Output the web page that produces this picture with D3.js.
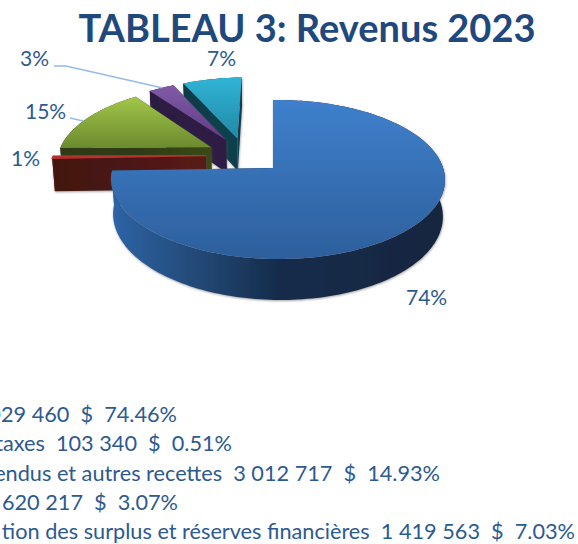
<!DOCTYPE html>
<html lang="fr">

<head>
    <meta charset="UTF-8">
    <title>TABLEAU 3: Revenus 2023</title>
    <script src="https://cdnjs.cloudflare.com/ajax/libs/d3/7.8.5/d3.min.js"></script>
    <style>
        html, body { margin: 0; padding: 0; background: #fff; overflow: hidden; }
        text { font-family: Lato, "Open Sans", sans-serif; white-space: pre; }
    </style>
</head>

<body>
    <script>
        // the reference crops the legend on its left, so only the visible part of each row is kept
        var visibleNames = ["", "taxes", "endus et autres recettes", "", "tion des surplus et réserves financières"];
        var amounts = [15029460, 103340, 3012717, 620217, 1419563];
        var amountLabels = ["029 460", "103 340", "3 012 717", "620 217", "1 419 563"];
        var percentLabels = ["74.46%", "0.51%", "14.93%", "3.07%", "7.03%"];
        var sliceLabels = ["74%", "1%", "15%", "3%", "7%"];

        var topColors = [["#3f80cc", "#2d5f9c"], ["#b8322e", "#a02a28"], ["#a2c649", "#6c8a2e"], ["#8059a8", "#5e3f82"], ["#30b4d6", "#2388a6"]];
        var wallColors = [["#2e64a6", "#234a78", "#152c4b", "#12263f"], ["#431311", "#451412", "#4e1715", "#581b18"], ["#2e3a12", "#2e3a12", "#2e3a12", "#3a4a16"], ["#2b1c40", "#2b1c40", "#2e1e44", "#2e1e44"], ["#0f3a47", "#0f3a47", "#113f4d", "#113f4d"]];

        var w = 578, h = 544;
        var explode = 0.245;

        var svg = d3.select("body").append("svg")
            .attr("width", w)
            .attr("height", h);

        var defs = svg.append("defs");

        var shadow = defs.append("filter").attr("id", "shadow")
            .attr("x", "-5%").attr("y", "-5%").attr("width", "110%").attr("height", "110%");
        shadow.append("feDropShadow")
            .attr("dx", 0.5).attr("dy", 1).attr("stdDeviation", 1.2)
            .attr("flood-color", "#555").attr("flood-opacity", 0.55);

        // 透视投影: 盘面坐标 (u, v), z=0 顶面, z=1 底面
        function project(u, v, z) {
            var s = 1 / (1 - 0.1447 * v - 0.03 * u);
            return [
                273 + 165 * u * s * (1 - 0.012 * z),
                168 + 77.8 * v * s + 35 * z * s
            ];
        }

        var pie = d3.pie().sort(null).startAngle(0).endAngle(2 * Math.PI);
        var slices = pie(amounts);
        var line = d3.line();

        var blueMid = (slices[0].startAngle + slices[0].endAngle) / 2;

        function offset(d) {
            var mid = (d.startAngle + d.endAngle) / 2;
            return [
                explode * (Math.sin(mid) - Math.sin(blueMid)),
                explode * (-Math.cos(mid) + Math.cos(blueMid))
            ];
        }

        function rimPoint(d, a, z) {
            var o = offset(d);
            return project(o[0] + Math.sin(a), o[1] - Math.cos(a), z);
        }

        function apex(d, z) {
            var o = offset(d);
            return project(o[0], o[1], z);
        }

        function rim(d, z) {
            var n = Math.max(2, Math.ceil((d.endAngle - d.startAngle) * 40));
            return d3.range(n + 1).map(function (i) {
                return rimPoint(d, d.startAngle + (d.endAngle - d.startAngle) * i / n, z);
            });
        }

        slices.forEach(function (d, i) {
            var top = defs.append("linearGradient").attr("id", "top" + i)
                .attr("x1", 0).attr("y1", 0).attr("x2", 0).attr("y2", 1);
            top.append("stop").attr("offset", 0).attr("stop-color", topColors[i][0]);
            top.append("stop").attr("offset", 1).attr("stop-color", topColors[i][1]);

            var wall = defs.append("linearGradient").attr("id", "wall" + i);
            [0, 0.25, 0.5, 1].forEach(function (t, k) {
                wall.append("stop").attr("offset", t).attr("stop-color", wallColors[i][k]);
            });
        });

        // 从后往前画: 青, 紫, 绿, 红, 蓝
        var order = [4, 3, 2, 1, 0];

        order.forEach(function (i) {
            var d = slices[i];
            var g = svg.append("g").attr("filter", "url(#shadow)");
            var topRim = rim(d, 0), bottomRim = rim(d, 1);
            var last = topRim.length - 1;

            // 两个切面
            g.append("path")
                .attr("d", line([apex(d, 0), topRim[last], bottomRim[last], apex(d, 1)]) + "Z")
                .attr("fill", wallColors[i][3]);
            g.append("path")
                .attr("d", line([apex(d, 0), topRim[0], bottomRim[0], apex(d, 1)]) + "Z")
                .attr("fill", "url(#wall" + i + ")");

            // 外侧弧面
            g.append("path")
                .attr("d", line(topRim.concat(bottomRim.slice().reverse())) + "Z")
                .attr("fill", "url(#wall" + i + ")");

            // 顶面
            g.append("path")
                .attr("d", line([apex(d, 0)].concat(topRim)) + "Z")
                .attr("fill", "url(#top" + i + ")")
                .attr("stroke", i === 1 ? topColors[1][0] : "none")
                .attr("stroke-width", i === 1 ? 1.2 : 0);
        });

        // 引线
        var purple = slices[3], green = slices[2];
        svg.append("path")
            .attr("d", line([[54, 66], [66, 66], rimPoint(purple, purple.startAngle + 0.1, 0)]))
            .attr("fill", "none").attr("stroke", "#93bbe9").attr("stroke-width", 1.5);
        svg.append("path")
            .attr("d", line([[70, 118], rimPoint(green, green.startAngle + 0.42, 0)]))
            .attr("fill", "none").attr("stroke", "#93bbe9").attr("stroke-width", 1.5);

        // 标题
        svg.append("text")
            .attr("x", 307).attr("y", 42)
            .attr("text-anchor", "middle")
            .attr("font-size", 38).attr("font-weight", 700)
            .attr("fill", "#1f497d")
            .text("TABLEAU 3: Revenus 2023");

        // 百分比标签
        var labelX = [406, 11, 25, 20, 207];
        var labelY = [305, 166, 119, 66, 66];
        sliceLabels.forEach(function (t, i) {
            svg.append("text")
                .attr("x", labelX[i]).attr("y", labelY[i])
                .attr("font-size", 21)
                .attr("fill", "#2c5a91")
                .text(t);
        });

        // 图例文字, 右端对齐到原图位置
        var rowY = d3.scalePoint().domain(d3.range(visibleNames.length)).range([422, 539]);
        var rowEnd = [177, 232, 440, 178, 575];
        visibleNames.forEach(function (c, i) {
            svg.append("text")
                .attr("x", rowEnd[i]).attr("y", rowY(i))
                .attr("text-anchor", "end")
                .attr("font-size", 21.7)
                .attr("fill", "#2c5a91")
                .text((c ? c + "  " : "") + amountLabels[i] + "  $  " + percentLabels[i]);
        });
    </script>
</body>

</html>
